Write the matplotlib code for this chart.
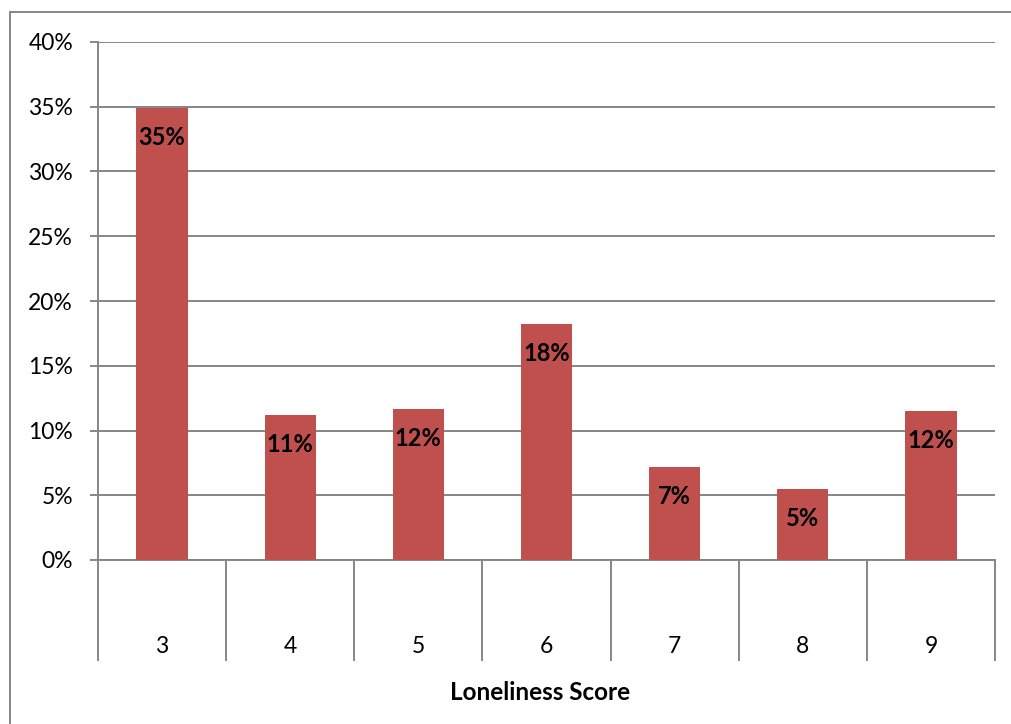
import matplotlib.pyplot as plt
from matplotlib.patches import Rectangle
from matplotlib.ticker import FixedLocator, PercentFormatter

scores = ["3", "4", "5", "6", "7", "8", "9"]
shares = [0.349, 0.112, 0.1165, 0.182, 0.0718, 0.0545, 0.115]
bar_labels = ["35%", "11%", "12%", "18%", "7%", "5%", "12%"]

GRAY = "#868686"
RED = "#C0504D"
W, H = 1012, 724

plt.rcParams["font.family"] = ["Lato", "DejaVu Sans"]

fig = plt.figure(figsize=(W / 100, H / 100), dpi=100)
# outer chart border (only top/left visible in the frame)
fig.patches.append(Rectangle((10 / W, -0.2), 1.2, 1.2 - 12 / H, transform=fig.transFigure,
                             fill=False, edgecolor=GRAY, linewidth=1.4))

ax = fig.add_axes([98 / W, (H - 560) / H, (995 - 98) / W, (560 - 42) / H])
xs = list(range(len(scores)))
ax.bar(xs, shares, width=0.4, color=RED, zorder=3)

ax.set_xlim(-0.5, len(scores) - 0.5)
ax.set_ylim(0, 0.4)
ax.yaxis.set_major_locator(FixedLocator([i * 0.05 for i in range(9)]))
ax.yaxis.set_major_formatter(PercentFormatter(1.0, decimals=0))
ax.grid(axis="y", color=GRAY, linewidth=1.4, zorder=0)
ax.set_axisbelow(True)

for s in ["top", "right"]:
    ax.spines[s].set_visible(False)
for s in ["left", "bottom"]:
    ax.spines[s].set_color(GRAY)
    ax.spines[s].set_linewidth(1.4)

ax.tick_params(axis="y", direction="out", length=6, width=1.4, color=GRAY,
               labelsize=16.5, pad=12, labelcolor="black")

# category boundaries as long ticks, labels on minor ticks at centres
ax.set_xticks([i - 0.5 for i in range(len(scores) + 1)])
ax.set_xticklabels([])
ax.tick_params(axis="x", which="major", direction="out", length=73, width=1.4, color=GRAY)
ax.set_xticks(xs, minor=True)
ax.set_xticklabels(scores, minor=True)
ax.tick_params(axis="x", which="minor", length=0, labelsize=16.5, pad=55)

for x, v, lab in zip(xs, shares, bar_labels):
    ax.annotate(lab, (x, v), xytext=(0, -21), textcoords="offset points",
                ha="center", va="center", fontsize=17, fontweight="bold", zorder=4)

fig.text(540 / W, (H - 693) / H, "Loneliness Score", ha="center", va="center",
         fontsize=17.5, fontweight="bold")

fig.savefig("out.png", dpi=100)
